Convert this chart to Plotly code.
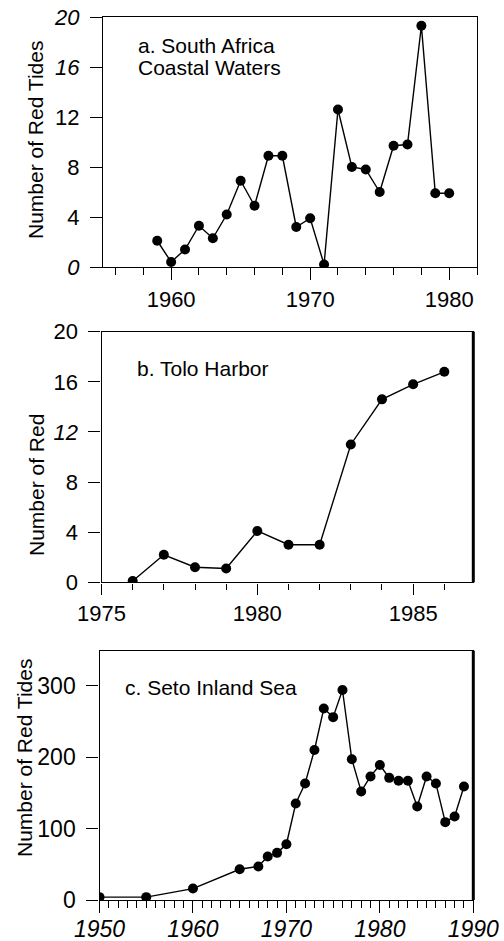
import plotly.graph_objects as go

# ---- data ----
sa_years = list(range(1959, 1981))
sa_counts = [2.1, 0.4, 1.4, 3.3, 2.3, 4.2, 6.9, 4.9, 8.9, 8.9, 3.2,
             3.9, 0.2, 12.6, 8.0, 7.8, 6.0, 9.7, 9.8, 19.3, 5.9, 5.9]

tolo_years = list(range(1976, 1987))
tolo_counts = [0.1, 2.2, 1.2, 1.1, 4.1, 3.0, 3.0, 11.0, 14.6, 15.8, 16.8]

seto_years = [1950, 1955, 1960, 1965, 1967, 1968, 1969, 1970, 1971, 1972,
              1973, 1974, 1975, 1976, 1977, 1978, 1979, 1980, 1981, 1982,
              1983, 1984, 1985, 1986, 1987, 1988, 1989]
seto_counts = [4, 4, 16, 43, 47, 61, 66, 78, 135, 163, 210, 268, 256, 294,
               197, 152, 173, 189, 171, 167, 167, 131, 173, 163, 109, 117, 159]

sa_yticks = [0, 4, 8, 12, 16, 20]
sa_yticktext = ["<i>0</i>", "4", "8", "12", "<i>16</i>", "<i>20</i>"]
sa_xticks = [1960, 1970, 1980]

tolo_yticks = [0, 4, 8, 12, 16, 20]
tolo_yticktext = ["0", "4", "8", "<i>12</i>", "16", "20"]
tolo_xticks = [1975, 1980, 1985]

seto_yticks = [0, 100, 200, 300]
seto_xticks = [1950, 1960, 1970, 1980, 1990]
seto_xticktext = ["<i>1950</i>", "<i>1960</i>", "<i>1970</i>", "<i>1980</i>", "<i>1990</i>"]

title_full = "Number of Red Tides"
title_short = "Number of Red"

# ---- layout helpers ----
W, H = 504, 941
FONT = "Liberation Sans, Arial, Helvetica, sans-serif"


def xdom(l, r):
    return [l / W, r / W]


def ydom(top, bottom):
    return [1 - bottom / H, 1 - top / H]


def px_x(x):
    return x / W


def px_y(y):
    return 1 - y / H


fig = go.Figure()

line_style = dict(color="black", width=1.4)
marker_style = dict(color="black", size=10, symbol="circle")

fig.add_trace(go.Scatter(x=sa_years, y=sa_counts, mode="lines+markers",
                         line=line_style, marker=marker_style,
                         xaxis="x", yaxis="y", showlegend=False))
fig.add_trace(go.Scatter(x=tolo_years, y=tolo_counts, mode="lines+markers",
                         line=line_style, marker=marker_style,
                         xaxis="x2", yaxis="y2", showlegend=False))
fig.add_trace(go.Scatter(x=seto_years, y=seto_counts, mode="lines+markers",
                         line=line_style, marker=marker_style,
                         xaxis="x3", yaxis="y3", showlegend=False))

axis_common = dict(showline=True, linecolor="black", linewidth=1.4,
                   mirror=True, showgrid=False, zeroline=False,
                   ticks="outside", tickcolor="black", tickwidth=1.4,
                   color="black", automargin=False)

fig.update_layout(
    template="none",
    width=W, height=H, autosize=False,
    margin=dict(l=0, r=0, t=0, b=0, pad=0),
    paper_bgcolor="white", plot_bgcolor="white",
    font=dict(family=FONT, color="black", size=21),
    # panel a
    xaxis=dict(axis_common, domain=xdom(103, 477), range=[1955.1, 1982.0],
               anchor="y", tickmode="array", tickvals=sa_xticks,
               ticklen=12, tickfont=dict(size=22),
               minor=dict(tickmode="linear", tick0=1956, dtick=2,
                          ticks="outside", ticklen=7, tickcolor="black",
                          tickwidth=1.4)),
    yaxis=dict(axis_common, domain=ydom(17, 267), range=[0, 20],
               anchor="x", tickmode="array", tickvals=sa_yticks,
               ticktext=sa_yticktext, ticklen=12, tickfont=dict(size=22),
               ticklabelstandoff=6),
    # panel b
    xaxis2=dict(axis_common, domain=xdom(101.5, 473.3), range=[1975, 1986.93],
                anchor="y2", tickmode="array", tickvals=tolo_xticks,
                ticklen=11, tickfont=dict(size=22),
                minor=dict(tickmode="linear", tick0=1975, dtick=1,
                           ticks="outside", ticklen=6, tickcolor="black",
                           tickwidth=1.4)),
    yaxis2=dict(axis_common, domain=ydom(331.7, 582.3), range=[0, 20],
                anchor="x2", tickmode="array", tickvals=tolo_yticks,
                ticktext=tolo_yticktext, ticklen=12, tickfont=dict(size=22),
                ticklabelstandoff=6),
    # panel c
    xaxis3=dict(axis_common, domain=xdom(99.5, 473.3), range=[1950, 1990],
                anchor="y3", tickmode="array", tickvals=seto_xticks,
                ticktext=seto_xticktext, ticklen=12, tickfont=dict(size=23),
                ticklabelstandoff=-4,
                minor=dict(tickmode="linear", tick0=1950, dtick=1,
                           ticks="outside", ticklen=7, tickcolor="black",
                           tickwidth=1.4)),
    yaxis3=dict(axis_common, domain=ydom(650.7, 900), range=[0, 349],
                anchor="x3", tickmode="array", tickvals=seto_yticks,
                ticklen=12, tickfont=dict(size=23), ticklabelstandoff=6),
)

# heavier right-hand frame edges on the lower two panels
for xa, ya in (("x2", "y2"), ("x3", "y3")):
    fig.add_shape(type="line", xref=f"{xa} domain", yref=f"{ya} domain",
                  x0=1, x1=1, y0=0, y1=1,
                  line=dict(color="black", width=3))

# panel labels
label_font = dict(family=FONT, size=21, color="black")
panel_labels = [
    ("a. South Africa", 136, 46),
    ("Coastal Waters", 136, 67),
    ("b. Tolo Harbor", 135, 369),
    ("c. Seto Inland Sea", 123, 687),
]
for text, x, y in panel_labels:
    fig.add_annotation(text=text, x=px_x(x), y=px_y(y), xref="paper",
                       yref="paper", xanchor="left", yanchor="middle",
                       showarrow=False, font=label_font)

# rotated y-axis titles
y_titles = [
    (title_full, 36, 140),
    (title_short, 36, 485),
    (title_full, 24, 758),
]
for text, x, y in y_titles:
    fig.add_annotation(text=text, x=px_x(x), y=px_y(y), xref="paper",
                       yref="paper", xanchor="center", yanchor="middle",
                       textangle=-90, showarrow=False, font=label_font)

fig.write_html("out.html")
